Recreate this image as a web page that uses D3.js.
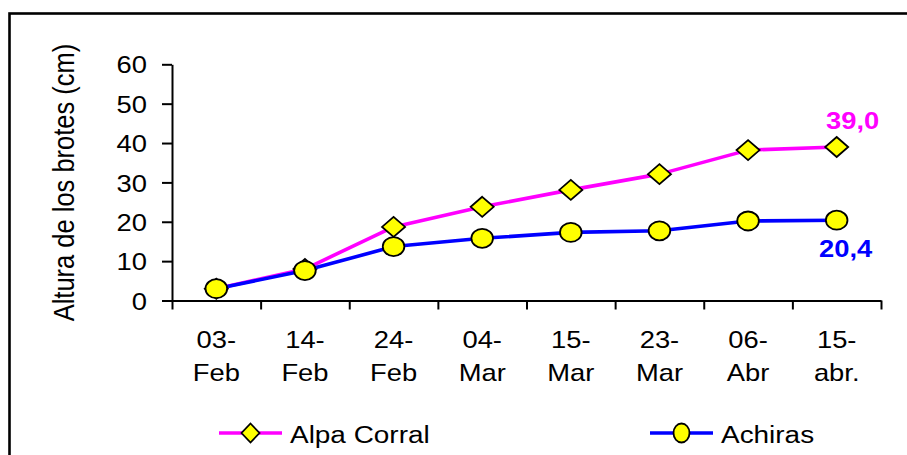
<!DOCTYPE html>
<html>
<head>
<meta charset="utf-8">
<script src="https://cdn.jsdelivr.net/npm/d3@7"></script>
<style>
  html, body { margin: 0; padding: 0; background: #fff; }
  svg { display: block; }
  text { font-family: "Liberation Sans", Arial, sans-serif; }
</style>
</head>
<body>
<svg id="chart" width="907" height="455"></svg>
<script>
// Sampling dates (two-line axis labels are split at the first hyphen)
const categories = ["03-Feb", "14-Feb", "24-Feb", "04-Mar", "15-Mar", "23-Mar", "06-Abr", "15-abr."];

// Shoot height (cm) per site
const alpaCorral = [3.0, 8.0, 18.7, 23.8, 28.1, 32.1, 38.2, 39.0];
const achiras    = [3.0, 7.6, 13.7, 15.8, 17.3, 17.7, 20.2, 20.4];

const yTicks = [0, 10, 20, 30, 40, 50, 60];
const seriesNames = ["Alpa Corral", "Achiras"];
const endLabels = ["39,0", "20,4"];

const SX = 1.14; // horizontal glyph stretch used throughout the figure

const svg = d3.select("#chart");

// Outer frame (runs past the right and bottom edges)
svg.append("rect")
  .attr("x", 9.5).attr("y", 13.5)
  .attr("width", 940).attr("height", 480)
  .attr("fill", "none").attr("stroke", "#000").attr("stroke-width", 2.6);

const plot = { left: 172, right: 881, top: 64.3, bottom: 300.5 };

const x = d3.scaleBand().domain(categories).range([plot.left, plot.right]).padding(0);
const xEdge = d3.scaleLinear().domain([0, categories.length]).range([plot.left, plot.right]);
const y = d3.scaleLinear().domain([0, 60]).range([plot.bottom, plot.top]);

// Y axis
const yAxis = svg.append("g")
  .attr("transform", `translate(${plot.left},0)`)
  .call(d3.axisLeft(y).tickValues(yTicks).tickSize(10).tickSizeOuter(0).tickFormat(d3.format("d")));
yAxis.select(".domain").attr("stroke", "#000").attr("stroke-width", 2);
yAxis.selectAll(".tick line").attr("stroke", "#000").attr("stroke-width", 2);
yAxis.selectAll(".tick text")
  .attr("x", -25 / SX)
  .attr("dy", "0.36em")
  .attr("transform", `scale(${SX},1)`)
  .style("font-size", "24px")
  .style("fill", "#000");

// X axis: ticks sit on category boundaries
const xAxis = svg.append("g")
  .attr("transform", `translate(0,${plot.bottom})`)
  .call(d3.axisBottom(xEdge).tickValues(d3.range(categories.length + 1)).tickSize(9).tickSizeOuter(0).tickFormat(""));
xAxis.select(".domain").attr("stroke", "#000").attr("stroke-width", 2);
xAxis.selectAll(".tick line").attr("stroke", "#000").attr("stroke-width", 2);

// Category labels on two lines
const catG = svg.append("g");
categories.forEach(c => {
  const i = c.indexOf("-");
  const lines = [c.slice(0, i + 1), c.slice(i + 1)];
  const t = catG.append("text")
    .attr("transform", `translate(${x(c) + x.bandwidth() / 2},348) scale(${SX},1)`)
    .attr("text-anchor", "middle")
    .style("font-size", "24px")
    .style("fill", "#000");
  lines.forEach((l, k) => {
    t.append("tspan").attr("x", 0).attr("y", k * 33.5).text(l);
  });
});

// Y axis title
svg.append("text")
  .attr("transform", `translate(74,182.5) scale(${SX},1) rotate(-90)`)
  .attr("text-anchor", "middle")
  .style("font-size", "25.5px")
  .style("fill", "#000")
  .text("Altura de los brotes (cm)");

const colors = ["#FF00FF", "#0000FF"];
const data = [alpaCorral, achiras];

const line = d3.line()
  .x((d, i) => x(categories[i]) + x.bandwidth() / 2)
  .y(d => y(d));

function drawMarker(g, kind, cx, cy, hw, hh) {
  if (kind === 0) {
    g.append("path")
      .attr("d", `M0,${-hh} L${hw},0 L0,${hh} L${-hw},0 Z`)
      .attr("transform", `translate(${cx},${cy})`)
      .attr("fill", "#FFFF00").attr("stroke", "#000").attr("stroke-width", 1.8)
      .attr("stroke-linejoin", "miter");
  } else {
    g.append("ellipse")
      .attr("cx", cx).attr("cy", cy)
      .attr("rx", hw).attr("ry", hh)
      .attr("fill", "#FFFF00").attr("stroke", "#000").attr("stroke-width", 1.8);
  }
}

const plotMarkerSize = [[11.5, 10], [10.8, 9.5]];
data.forEach((vals, s) => {
  const g = svg.append("g");
  g.append("path")
    .datum(vals)
    .attr("d", line)
    .attr("fill", "none")
    .attr("stroke", colors[s])
    .attr("stroke-width", 3.6)
    .attr("stroke-linejoin", "round");
  vals.forEach((v, i) => {
    drawMarker(g, s, x(categories[i]) + x.bandwidth() / 2, y(v), plotMarkerSize[s][0], plotMarkerSize[s][1]);
  });
});

// End-value labels
const lastI = categories.length - 1;
const lastX = x(categories[lastI]) + x.bandwidth() / 2;
const labelOffsets = [[16, -18], [9, 36.5]];
data.forEach((vals, s) => {
  svg.append("text")
    .attr("transform", `translate(${lastX + labelOffsets[s][0]},${y(vals[lastI]) + labelOffsets[s][1]}) scale(${SX},1)`)
    .attr("text-anchor", "middle")
    .style("font-size", "24px")
    .style("font-weight", "bold")
    .style("fill", colors[s])
    .text(endLabels[s]);
});

// Legend
const legendItems = [
  { x0: 219, x1: 282, tx: 290 },
  { x0: 650, x1: 713, tx: 721 }
];
const legendMarkerSize = [[9, 9.5], [8, 9.5]];
const legendY = 433;
legendItems.forEach((it, s) => {
  const g = svg.append("g");
  g.append("line")
    .attr("x1", it.x0).attr("x2", it.x1)
    .attr("y1", legendY).attr("y2", legendY)
    .attr("stroke", colors[s]).attr("stroke-width", 3.6);
  drawMarker(g, s, (it.x0 + it.x1) / 2, legendY, legendMarkerSize[s][0], legendMarkerSize[s][1]);
  g.append("text")
    .attr("transform", `translate(${it.tx},${legendY + 9.5}) scale(${SX},1)`)
    .style("font-size", "24.5px")
    .style("fill", "#000")
    .text(seriesNames[s]);
});
</script>
</body>
</html>
